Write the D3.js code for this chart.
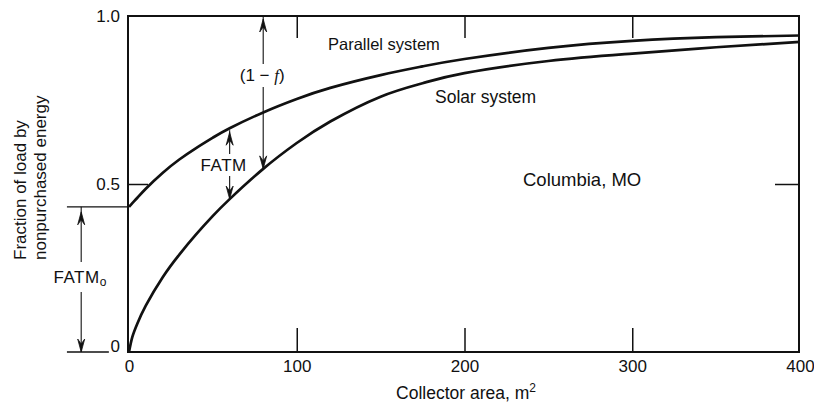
<!DOCTYPE html>
<html>
<head>
<meta charset="utf-8">
<script src="https://cdn.jsdelivr.net/npm/d3@7"></script>
<style>
  html, body { margin: 0; padding: 0; background: #fff; }
  svg { display: block; }
  text { font-family: "Liberation Sans", Arial, sans-serif; fill: #111; }
</style>
</head>
<body>
<svg id="chart" width="814" height="404"></svg>
<script>
// ---- data ----
const areas = [0, 2, 5, 10, 20, 30, 40, 50, 60, 80, 100, 120, 150, 175, 200, 250, 300, 350, 400];
const parallelSystem = [0.432, 0.443, 0.459, 0.486, 0.533, 0.573, 0.607, 0.638, 0.666, 0.713, 0.753, 0.786, 0.824, 0.85, 0.872, 0.905, 0.926, 0.937, 0.942];
const solarSystem = [0, 0.045, 0.085, 0.138, 0.222, 0.29, 0.35, 0.405, 0.455, 0.545, 0.622, 0.686, 0.76, 0.80, 0.83, 0.866, 0.888, 0.907, 0.923];
const xTickValues = [0, 100, 200, 300, 400];
const xTickLabels = ["0", "100", "200", "300", "400"];
const yTickValues = [0, 0.5, 1.0];
const yTickLabels = ["0", "0.5", "1.0"];
const fatmArea = 60;       // FATM arrow position
const oneMinusFArea = 80;  // (1 - f) arrow position
const fatm0Area = -28.5;   // FATMo arrow (left of axis)
const refLineStart = -37;  // start of reference lines left of axis

// ---- layout ----
const svg = d3.select("#chart");
const x = d3.scaleLinear().domain([0, 400]).range([129, 800]);
const y = d3.scaleLinear().domain([0, 1]).range([352, 16]);
const ink = "#111";

// frame
svg.append("rect")
  .attr("x", x(0) - 1).attr("y", y(1))
  .attr("width", x(400) - x(0)).attr("height", y(0) - y(1))
  .attr("fill", "none").attr("stroke", ink).attr("stroke-width", 2);

// bottom axis with inward ticks
const gb = svg.append("g").attr("transform", `translate(0,${y(0)})`)
  .call(d3.axisBottom(x).tickValues(xTickValues)
    .tickFormat((d, i) => xTickLabels[i]).tickSizeInner(-24).tickSizeOuter(0).tickPadding(8));
gb.select(".domain").remove();
gb.selectAll(".tick line").attr("stroke", ink).attr("stroke-width", 1.5)
  .filter(d => d === 0 || d === 400).remove();
gb.selectAll(".tick text").style("font-size", "17px").attr("fill", ink);

// top axis ticks
const gt = svg.append("g").attr("transform", `translate(0,${y(1)})`)
  .call(d3.axisTop(x).tickValues([100, 200, 300]).tickFormat("").tickSizeInner(-22).tickSizeOuter(0));
gt.select(".domain").remove();
gt.selectAll(".tick line").attr("stroke", ink).attr("stroke-width", 1.5);

// left axis
const gl = svg.append("g").attr("transform", `translate(${x(0) - 1},0)`)
  .call(d3.axisLeft(y).tickValues(yTickValues)
    .tickFormat((d, i) => yTickLabels[i]).tickSizeInner(-20).tickSizeOuter(0).tickPadding(8));
gl.select(".domain").remove();
gl.selectAll(".tick line").attr("stroke", ink).attr("stroke-width", 1.5)
  .filter(d => d !== 0.5).remove();
gl.selectAll(".tick text").style("font-size", "17px").attr("fill", ink)
  .attr("dy", d => d === 0 ? "-0.05em" : "0.32em");

// right axis tick
const gr = svg.append("g").attr("transform", `translate(${x(400) - 1},0)`)
  .call(d3.axisRight(y).tickValues([0.5]).tickFormat("").tickSizeInner(-24).tickSizeOuter(0));
gr.select(".domain").remove();
gr.selectAll(".tick line").attr("stroke", ink).attr("stroke-width", 1.5);

// curves
const line = d3.line().x(d => x(d[0])).y(d => y(d[1])).curve(d3.curveNatural);
[parallelSystem, solarSystem].forEach(vals => {
  svg.append("path")
    .datum(areas.map((a, i) => [a, vals[i]]))
    .attr("d", line)
    .attr("fill", "none").attr("stroke", ink).attr("stroke-width", 2.7)
    .attr("stroke-linejoin", "round");
});

// helpers
function seg(x1, y1, x2, y2, w) {
  svg.append("line").attr("x1", x1).attr("y1", y1).attr("x2", x2).attr("y2", y2)
    .attr("stroke", ink).attr("stroke-width", w || 1.1);
}
function arrowHead(px, tip, dir) { // dir: -1 = pointing up, +1 = pointing down
  const b = tip - dir * 13, m = tip - dir * 8;
  svg.append("path")
    .attr("d", `M${px},${tip} L${px - 3.5},${b} L${px},${m} L${px + 3.5},${b} Z`)
    .attr("fill", ink).attr("stroke", ink).attr("stroke-width", 0.8);
}
function valAt(vals, area) { return vals[areas.indexOf(area)]; }

// (1 - f) arrow
{
  const px = x(oneMinusFArea);
  const yTop = y(1), yBot = y(valAt(solarSystem, oneMinusFArea));
  seg(px, yTop, px, 64);
  seg(px, 87, px, yBot);
  arrowHead(px, yTop + 3, -1);
  arrowHead(px, yBot, 1);
  const t = svg.append("text").attr("x", px - 1).attr("y", 81)
    .attr("text-anchor", "middle").style("font-size", "17px");
  t.append("tspan").text("(1 − ");
  t.append("tspan").style("font-style", "italic").style("font-family", "'Liberation Serif', serif").text("f");
  t.append("tspan").text(")");
}

// FATM arrow
{
  const px = x(fatmArea);
  const yTop = y(valAt(parallelSystem, fatmArea)), yBot = y(valAt(solarSystem, fatmArea));
  seg(px, yTop + 2, px, 154);
  seg(px, 176, px, yBot);
  arrowHead(px, yTop + 4, -1);
  arrowHead(px, yBot, 1);
  svg.append("text").attr("x", px - 6).attr("y", 171)
    .attr("text-anchor", "middle").style("font-size", "17px").style("letter-spacing", "0.5px").text("FATM");
}

// FATMo arrow and reference lines
{
  const px = x(fatm0Area);
  const yTop = y(parallelSystem[0]), yBot = y(0);
  seg(x(refLineStart), yTop, x(0), yTop, 1.4);
  seg(x(refLineStart), yBot, x(-12), yBot, 1.4);
  seg(px, yTop, px, 262);
  seg(px, 292, px, yBot);
  arrowHead(px, yTop + 5, -1);
  arrowHead(px, yBot, 1);
  const t = svg.append("text").attr("x", px - 1).attr("y", 283)
    .attr("text-anchor", "middle").style("font-size", "17px").style("letter-spacing", "0.5px");
  t.append("tspan").text("FATM");
  t.append("tspan").attr("dy", 3).style("font-size", "12px").text("o");
}

// curve labels
svg.append("text").attr("x", 328).attr("y", 50).style("font-size", "16.5px").text("Parallel system");
svg.append("text").attr("x", 435).attr("y", 103).style("font-size", "17.5px").text("Solar system");
svg.append("text").attr("x", 523).attr("y", 186).style("font-size", "18.5px").text("Columbia, MO");

// axis titles
const xt = svg.append("text").attr("x", 466).attr("y", 399)
  .attr("text-anchor", "middle").style("font-size", "17.5px");
xt.append("tspan").text("Collector area, m");
xt.append("tspan").attr("dy", -7).style("font-size", "12px").text("2");

svg.append("text").attr("transform", "translate(26,260) rotate(-90)")
  .style("font-size", "17px").text("Fraction of load by");
svg.append("text").attr("transform", "translate(46,260) rotate(-90)")
  .style("font-size", "17px").text("nonpurchased energy");
</script>
</body>
</html>
